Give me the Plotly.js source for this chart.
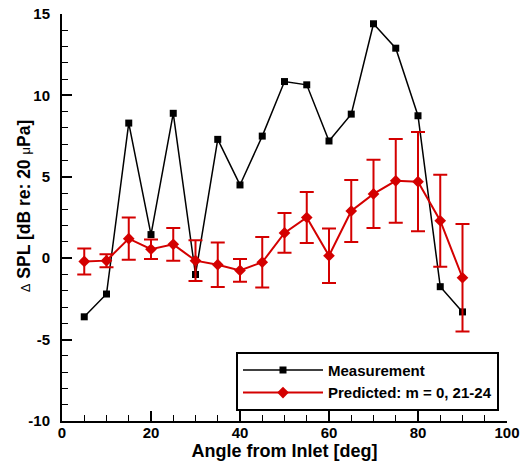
<!DOCTYPE html>
<html>
<head>
<meta charset="utf-8">
<script src="https://cdn.plot.ly/plotly-3.0.1.min.js"></script>
<style>
  html, body { margin: 0; padding: 0; background: #ffffff; }
  #chart { width: 525px; height: 464px; }
</style>
</head>
<body>
<div id="chart"></div>
<script>
// Angle from inlet [deg]
const angles = [5, 10, 15, 20, 25, 30, 35, 40, 45, 50, 55, 60, 65, 70, 75, 80, 85, 90];

// Measurement, delta SPL [dB]
const measured = [-3.6, -2.2, 8.3, 1.45, 8.9, -1.0, 7.3, 4.5, 7.5, 10.85, 10.65, 7.2, 8.85, 14.4, 12.9, 8.75, -1.75, -3.3];

// Predicted: m = 0, 21-24, delta SPL [dB] and error bar half-widths
const predicted = [-0.2, -0.15, 1.2, 0.55, 0.85, -0.15, -0.4, -0.75, -0.25, 1.55, 2.5, 0.15, 2.9, 3.95, 4.75, 4.7, 2.3, -1.2];
const predictedErr = [0.8, 0.4, 1.3, 0.6, 1.0, 1.25, 1.37, 0.7, 1.55, 1.22, 1.57, 1.67, 1.9, 2.1, 2.57, 3.05, 2.83, 3.3];

// Tick labels
const xTickVals = [0, 20, 40, 60, 80, 100];
const xTickText = ["0", "20", "40", "60", "80", "100"];
const yTickVals = [-10, -5, 0, 5, 10, 15];
const yTickText = ["-10", "-5", "0", "5", "10", "15"];

const traceNames = ["Measurement", "Predicted: m = 0, 21-24"];
const xTitle = "Angle from Inlet [deg]";
const yTitle = "<span style='font-weight:normal;font-size:13px'>Δ</span> SPL [dB re: 20 <span style='font-weight:normal;font-size:13px'>μ</span>Pa]";

const RED = "#d40000";
const FONT = "Liberation Sans, Arial, Helvetica, sans-serif";

const traces = [
  {
    x: angles, y: measured, name: traceNames[0],
    type: "scatter", mode: "lines+markers",
    line: { color: "#000000", width: 1.5 },
    marker: { symbol: "square", size: 7, color: "#000000" }
  },
  {
    x: angles, y: predicted, name: traceNames[1],
    type: "scatter", mode: "lines+markers",
    line: { color: RED, width: 2 },
    marker: { symbol: "diamond", size: 9, color: RED },
    error_y: { type: "data", array: predictedErr, visible: true, color: RED, thickness: 2, width: 7 }
  }
];

const axisCommon = {
  showgrid: false, zeroline: false,
  showline: true, linecolor: "#000000", linewidth: 2,
  ticks: "inside", ticklen: 10, tickwidth: 2, tickcolor: "#000000",
  tickfont: { family: FONT, size: 15, color: "#000000", weight: "bold" },
  tickmode: "array",
  mirror: false
};

const layout = {
  width: 525, height: 464,
  margin: { l: 62, r: 18, t: 14, b: 43 },
  paper_bgcolor: "#ffffff", plot_bgcolor: "#ffffff",
  showlegend: true,
  xaxis: Object.assign({}, axisCommon, {
    range: [0, 100], tickvals: xTickVals, ticktext: xTickText,
    minor: { tickmode: "linear", tick0: 0, dtick: 5, ticks: "inside", ticklen: 6, tickwidth: 1, tickcolor: "#000000" },
    ticklabelstandoff: -3,
    title: { text: xTitle, font: { family: FONT, size: 18, color: "#000000", weight: "bold" }, standoff: 0 }
  }),
  yaxis: Object.assign({}, axisCommon, {
    range: [-10, 15], tickvals: yTickVals, ticktext: yTickText,
    minor: { tickmode: "linear", tick0: 0, dtick: 1, ticks: "inside", ticklen: 6, tickwidth: 1, tickcolor: "#000000" },
    ticklabelstandoff: 7
  }),
  annotations: [
    {
      text: yTitle, textangle: -90, showarrow: false,
      xref: "paper", yref: "paper", x: -0.086, y: 0.527,
      xanchor: "center", yanchor: "middle",
      font: { family: FONT, size: 17.5, color: "#000000", weight: "bold" }
    }
  ],
  legend: {
    x: 0.391, y: 0.17, xanchor: "left", yanchor: "top",
    bgcolor: "#ffffff", bordercolor: "#000000", borderwidth: 2,
    font: { family: FONT, size: 15, color: "#000000", weight: "bold" },
    itemwidth: 80, tracegroupgap: 0
  }
};

Plotly.newPlot("chart", traces, layout, { displayModeBar: false, staticPlot: true });
</script>
</body>
</html>
